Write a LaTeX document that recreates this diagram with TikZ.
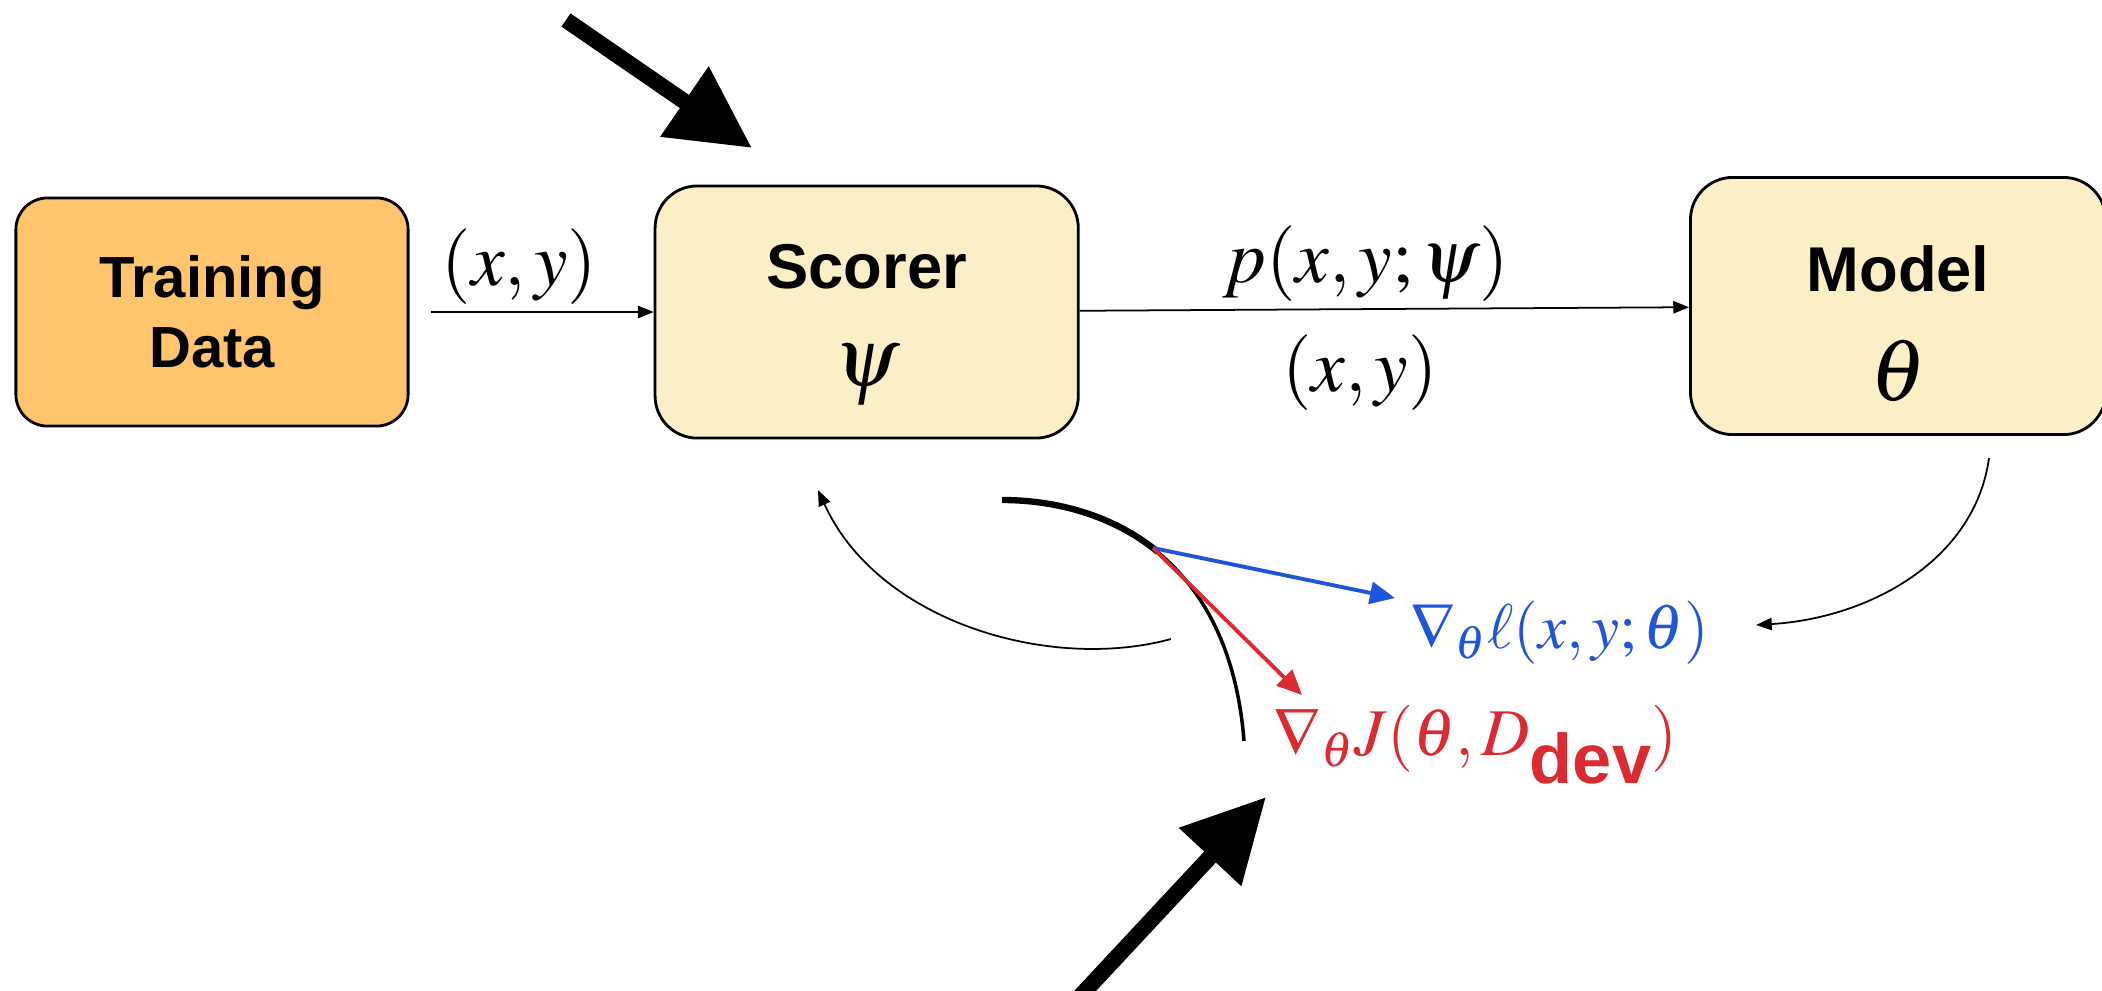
\documentclass[tikz,border=0pt]{standalone}
\usepackage[no-math]{fontspec}
\setsansfont{Liberation Sans}
\usepackage{mathptmx}
\usetikzlibrary{arrows.meta, positioning}
\definecolor{ink}  {HTML}{000000}
\definecolor{orng} {HTML}{FEC46E}
\definecolor{cream}{HTML}{FAEFC7}
\definecolor{gblue}{HTML}{1F56D8}
\definecolor{gred} {HTML}{DC2A33}
\tikzset{
  box/.style   = {draw=ink, line width=0.8pt, rounded corners=12pt,
                  fill=cream, inner sep=0pt, align=center},
  databox/.style = {box, fill=orng, rounded corners=9pt,
                  minimum width=3.92cm, minimum height=2.28cm,
                  font=\sffamily\bfseries\fontsize{16.5}{20}\selectfont},
  arr/.style   = {-{Triangle[length=4.5pt,width=3.5pt]}, line width=0.5pt, ink},
  bigarr/.style = {-{Triangle[length=0.82cm,width=0.81cm]}, line width=0.16cm, ink},
  grad/.style  = {-{Triangle[length=0.25cm,width=0.22cm]}, line width=1.1pt},
  mlbl/.style  = {font=\fontsize{21.5}{24}\selectfont, inner sep=2pt},
  glbl/.style  = {inner sep=0pt, anchor=base west},
}
\begin{document}
\begin{tikzpicture}[x=0.01cm, y=-0.01cm]
  \useasboundingbox (0,0) rectangle (2102,990);

  % boxes
  \node[databox] (train) at (212,312) {Training\\Data};
  \node[box, minimum width=4.23cm, minimum height=2.52cm,
        right=2.44cm of train, font=\fontsize{24}{28}\selectfont] (scorer)
    {\rule{0pt}{20pt}{\sffamily\bfseries\fontsize{18}{18}\selectfont Scorer}\\$\psi$};
  \node[box, minimum width=4.15cm, minimum height=2.57cm,
        right=6.09cm of scorer, yshift=0.06cm, font=\fontsize{25}{31}\selectfont] (model)
    {\rule{0pt}{23pt}{\sffamily\bfseries\fontsize{18}{18}\selectfont Model}\\$\theta$};

  % data flow
  \draw[arr, shorten <=0.21cm] (train) --
    node[mlbl, above, pos=0.45] (lxy) {$(x,y)$} (scorer);
  \draw[arr] (scorer) --
    node[mlbl, above, pos=0.47] (lp) {$p(x,y;\psi)$}
    node[mlbl, below=5pt, pos=0.46] (lxy2) {$(x,y)$} (model);

  % loss curve and gradients
  \draw[line width=1pt] (1002,500) .. controls (1110,500) and (1230,560) .. (1244,741);
  \draw[line width=1.8pt] (1002,500) .. controls (1056,500) and (1113,515) .. (1158,552);
  \coordinate (g) at (1153,548);
  \node[glbl, text=gblue, font=\fontsize{18}{20}\selectfont] (lblue) at (1410,648)
    {$\nabla_{\theta}\ell(x,y;\theta)$};
  \node[glbl, text=gred, font=\fontsize{19}{21}\selectfont] (lred) at (1273,755)
    {$\nabla_{\theta}J(\theta,D$\raisebox{-8pt}{\sffamily\bfseries\fontsize{20}{20}\selectfont dev}$)$};
  \coordinate (bt) at (1395,598);
  \coordinate (rt) at (1302,695);
  \draw[grad, gblue] (g) -- (bt);
  \draw[grad, gred] (g) -- (rt);

  % feedback arrows
  \coordinate (mfrom) at (1989,458);
  \coordinate (bto) at (1756,625);
  \draw[arr] (mfrom) .. controls (1975,560) and (1870,618) .. (bto);
  \coordinate (bfrom) at (1171,639);
  \coordinate (sto) at (818,490);
  \draw[arr] (bfrom) .. controls (1050,672) and (878,622) .. (sto);

  % big pointers
  \coordinate (p1a) at (566,20);
  \coordinate (p1b) at (752,148);
  \draw[bigarr] (p1a) -- (p1b);
  \coordinate (p2a) at (1072,1005);
  \coordinate (p2b) at (1266,797);
  \draw[bigarr] (p2a) -- (p2b);

\end{tikzpicture}
\end{document}
